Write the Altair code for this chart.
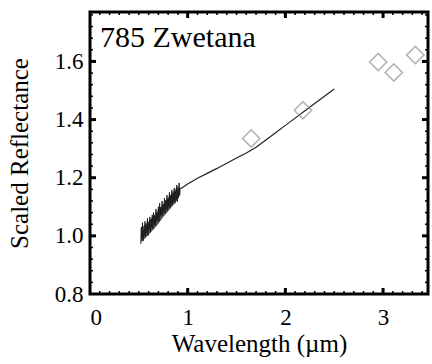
import altair as alt
import pandas as pd

# ---- data ----
# noisy visible spectrum (0.52 - 0.92 um)
vis_wl = [0.520, 0.526, 0.531, 0.537, 0.544, 0.550, 0.556, 0.563, 0.568, 0.575,
          0.581, 0.588, 0.594, 0.600, 0.607, 0.612, 0.619, 0.625, 0.632, 0.637,
          0.644, 0.650, 0.657, 0.662, 0.669, 0.675, 0.682, 0.688, 0.694, 0.700,
          0.706, 0.713, 0.719, 0.725, 0.731, 0.738, 0.744, 0.750, 0.757, 0.762,
          0.769, 0.775, 0.781, 0.788, 0.794, 0.800, 0.806, 0.813, 0.819, 0.825,
          0.831, 0.838, 0.844, 0.850, 0.856, 0.863, 0.869, 0.875, 0.881, 0.888,
          0.894, 0.900, 0.906, 0.912, 0.918, 0.922]
vis_refl = [0.972, 1.030, 0.990, 1.045, 0.982, 1.020, 1.002, 1.050, 0.995, 1.038,
            1.010, 1.060, 1.000, 1.042, 1.022, 1.065, 1.012, 1.058, 1.030, 1.072,
            1.025, 1.080, 1.040, 1.068, 1.035, 1.092, 1.048, 1.078, 1.055, 1.100,
            1.050, 1.112, 1.066, 1.098, 1.072, 1.120, 1.070, 1.108, 1.085, 1.130,
            1.078, 1.122, 1.092, 1.140, 1.088, 1.128, 1.100, 1.150, 1.095, 1.138,
            1.110, 1.158, 1.104, 1.145, 1.118, 1.165, 1.112, 1.152, 1.125, 1.175,
            1.118, 1.160, 1.132, 1.182, 1.140, 1.158]

# envelope of the noisy visible spectrum
band_wl = [0.52, 0.56, 0.60, 0.65, 0.70, 0.75, 0.80, 0.85, 0.90, 0.92]
band_lo = [0.978, 0.990, 1.005, 1.022, 1.042, 1.065, 1.085, 1.105, 1.125, 1.140]
band_hi = [1.025, 1.038, 1.050, 1.068, 1.090, 1.110, 1.132, 1.152, 1.170, 1.170]

# near-infrared spectrum (0.92 - 2.5 um)
nir_wl = [0.92, 1.0, 1.1, 1.2, 1.3, 1.4, 1.5, 1.6, 1.7, 1.8, 1.9, 2.0, 2.1, 2.2, 2.3, 2.4, 2.5]
nir_refl = [1.160, 1.178, 1.198, 1.215, 1.232, 1.250, 1.268, 1.285, 1.305, 1.330,
            1.355, 1.380, 1.405, 1.430, 1.455, 1.480, 1.505]

# photometric points (diamonds)
pt_wl = [1.65, 2.18, 2.95, 3.11, 3.33]
pt_refl = [1.335, 1.432, 1.598, 1.562, 1.622]

x_major = [1, 2, 3]
x_minor = [0.1, 0.2, 0.3, 0.4, 0.5, 0.6, 0.7, 0.8, 0.9,
           1.1, 1.2, 1.3, 1.4, 1.5, 1.6, 1.7, 1.8, 1.9,
           2.1, 2.2, 2.3, 2.4, 2.5, 2.6, 2.7, 2.8, 2.9,
           3.1, 3.2, 3.3, 3.4]
y_major = [1.0, 1.2, 1.4, 1.6]
y_minor = [0.84, 0.88, 0.92, 0.96, 1.04, 1.08, 1.12, 1.16, 1.24, 1.28, 1.32, 1.36,
           1.44, 1.48, 1.52, 1.56, 1.64, 1.68, 1.72, 1.76]
x_labels = [0, 1, 2, 3]
y_labels = [0.8, 1.0, 1.2, 1.4, 1.6]

title_text = "785 Zwetana"

W, H = 338, 282
FONT = "Liberation Serif"

xs = alt.Scale(domain=[0, 3.46], nice=False, zero=False)
ys = alt.Scale(domain=[0.8, 1.77], nice=False, zero=False)

vis = pd.DataFrame({"wl": vis_wl, "r": vis_refl})
band = pd.DataFrame({"wl": band_wl, "lo": band_lo, "hi": band_hi})
nir = pd.DataFrame({"wl": nir_wl, "r": nir_refl})
pts = pd.DataFrame({"wl": pt_wl, "r": pt_refl})

x_axis = alt.Axis(values=x_labels, format="d", title="Wavelength (µm)",
                  tickSize=0, domain=False, grid=False, labelPadding=12,
                  labelFontSize=23, titleFontSize=25, titlePadding=2,
                  labelColor="black", titleColor="black", titleFontWeight="normal")
y_axis = alt.Axis(values=y_labels, format=".1f", title="Scaled Reflectance",
                  tickSize=0, domain=False, grid=False, labelPadding=7,
                  labelFontSize=23, titleFontSize=25, titlePadding=22,
                  labelColor="black", titleColor="black", titleFontWeight="normal")

vis_band = alt.Chart(band).mark_area(color="#3a3a3a", opacity=0.85).encode(
    x=alt.X("wl:Q", scale=xs, axis=x_axis),
    y=alt.Y("lo:Q", scale=ys, axis=y_axis), y2="hi:Q")
vis_line = alt.Chart(vis).mark_line(color="#1a1a1a", strokeWidth=0.9).encode(
    x=alt.X("wl:Q", scale=xs), y=alt.Y("r:Q", scale=ys), order="wl:Q")
nir_line = alt.Chart(nir).mark_line(color="#222222", strokeWidth=1.2).encode(
    x=alt.X("wl:Q", scale=xs), y=alt.Y("r:Q", scale=ys))
diamonds = alt.Chart(pts).mark_point(shape="diamond", size=300, filled=False,
                                     color="#959595", strokeWidth=1.6).encode(
    x=alt.X("wl:Q", scale=xs), y=alt.Y("r:Q", scale=ys))


def xticks(vals, length, width):
    df = pd.DataFrame({"v": vals})
    bot = alt.Chart(df).mark_rule(color="black", strokeWidth=width).encode(
        x=alt.X("v:Q", scale=xs), y=alt.value(H), y2=alt.value(H - length))
    top = alt.Chart(df).mark_rule(color="black", strokeWidth=width).encode(
        x=alt.X("v:Q", scale=xs), y=alt.value(0), y2=alt.value(length))
    return bot + top


def yticks(vals, length, width):
    df = pd.DataFrame({"v": vals})
    left = alt.Chart(df).mark_rule(color="black", strokeWidth=width).encode(
        y=alt.Y("v:Q", scale=ys), x=alt.value(0), x2=alt.value(length))
    right = alt.Chart(df).mark_rule(color="black", strokeWidth=width).encode(
        y=alt.Y("v:Q", scale=ys), x=alt.value(W), x2=alt.value(W - length))
    return left + right


label = alt.Chart(pd.DataFrame({"t": [title_text]})).mark_text(
    align="left", baseline="alphabetic", fontSize=30, color="black").encode(
    text="t:N", x=alt.value(10), y=alt.value(35))

chart = alt.layer(
    vis_band, vis_line, nir_line, diamonds,
    xticks(x_major, 6, 3), xticks(x_minor, 3, 1.5),
    yticks(y_major, 6, 3), yticks(y_minor, 3, 1.5),
    label,
).properties(
    width=W, height=H,
    padding={"left": 90, "top": 12, "right": 4, "bottom": 70},
    autosize=alt.AutoSizeParams(type="none"),
    background="white",
).configure(font=FONT).configure_axis(labelFont=FONT, titleFont=FONT
).configure_text(font=FONT).configure_view(stroke="black", strokeWidth=3)

chart.save("out.html", embed_options={"renderer": "svg", "actions": False})
